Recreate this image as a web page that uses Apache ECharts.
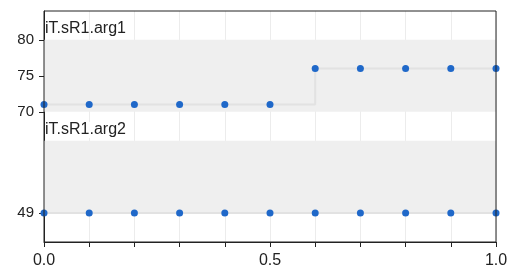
<!DOCTYPE html>
<html><head><meta charset="utf-8">
<script src="https://cdn.jsdelivr.net/npm/echarts@6/dist/echarts.min.js"></script>
<style>html,body{margin:0;padding:0;background:#fff}#c{width:522px;height:274px}</style>
</head><body><div id="c"></div>
<script>
const xValues = [0, 0.1, 0.2, 0.3, 0.4, 0.5, 0.6, 0.7, 0.8, 0.9, 1.0];
const arg1Values = [71, 71, 71, 71, 71, 71, 76, 76, 76, 76, 76];
const arg2Values = [49, 49, 49, 49, 49, 49, 49, 49, 49, 49, 49];
const panelTitles = ['iT.sR1.arg1', 'iT.sR1.arg2'];
const arg1Ticks = [70, 75, 80];
const arg2Ticks = [49];
const arg1Band = [70, 80];
const arg2Band = [49, 59];
const xLabelValues = [0, 0.5, 1.0];

const font = '"Liberation Sans", Arial, sans-serif';
const dark = '#222';
const blue = '#1f68c9';

const chart = echarts.init(document.getElementById('c'), null, {renderer: 'canvas'});
const pairs = (ys) => xValues.map((x, i) => [x, ys[i]]);

function xAxisCfg(gi, showLabels) {
  return {
    type: 'value', gridIndex: gi, min: 0, max: 1, interval: 0.1,
    axisLine: {show: showLabels, lineStyle: {color: dark, width: 1}},
    axisTick: {show: showLabels, length: 5, lineStyle: {color: dark}},
    axisLabel: {
      show: showLabels, margin: 11, fontSize: 16, color: dark, fontFamily: font,
      formatter: v => xLabelValues.some(t => Math.abs(t - v) < 1e-6) ? v.toFixed(1) : ''
    },
    splitLine: {show: true, lineStyle: {color: '#ececec', width: 1}}
  };
}
function yAxisCfg(gi, min, max, ticks) {
  return {
    type: 'value', gridIndex: gi, min: min, max: max,
    axisLine: {show: true, lineStyle: {color: dark, width: 1}},
    axisTick: {show: true, length: 5, customValues: ticks, lineStyle: {color: dark}},
    axisLabel: {show: true, margin: 10, fontSize: 15, color: dark, fontFamily: font, customValues: ticks},
    splitLine: {show: false}
  };
}
function seriesCfg(gi, ys, band) {
  return {
    type: 'line', xAxisIndex: gi, yAxisIndex: gi, data: pairs(ys), step: 'end',
    symbol: 'circle', symbolSize: 7, showSymbol: true, clip: false,
    itemStyle: {color: blue},
    lineStyle: {color: '#e2e2e2', width: 2},
    emphasis: {disabled: true},
    markArea: {
      silent: true, itemStyle: {color: '#efefef'},
      data: [[{yAxis: band[0]}, {yAxis: band[1]}]]
    },
    z: 3
  };
}

chart.setOption({
  animation: false,
  title: [
    {text: panelTitles[0], left: 45, top: 21, padding: 0, textStyle: {fontSize: 16, fontWeight: 'normal', color: dark, fontFamily: font}},
    {text: panelTitles[1], left: 45, top: 122, padding: 0, backgroundColor: '#fff', textStyle: {fontSize: 16, fontWeight: 'normal', color: dark, fontFamily: font}}
  ],
  grid: [
    {left: 44, right: 26, top: 11, height: 108},
    {left: 44, right: 26, top: 119, bottom: 32},
    {left: 44, right: 26, top: 11, bottom: 32, show: true, borderColor: dark, borderWidth: 1, backgroundColor: 'transparent', z: 5}
  ],
  xAxis: [xAxisCfg(0, false), xAxisCfg(1, true), {type: 'value', gridIndex: 2, show: false, min: 0, max: 1}],
  yAxis: [yAxisCfg(0, 69, 84, arg1Ticks), yAxisCfg(1, 45, 62, arg2Ticks), {type: 'value', gridIndex: 2, show: false, min: 0, max: 1}],
  series: [seriesCfg(0, arg1Values, arg1Band), seriesCfg(1, arg2Values, arg2Band)]
});
</script></body></html>
